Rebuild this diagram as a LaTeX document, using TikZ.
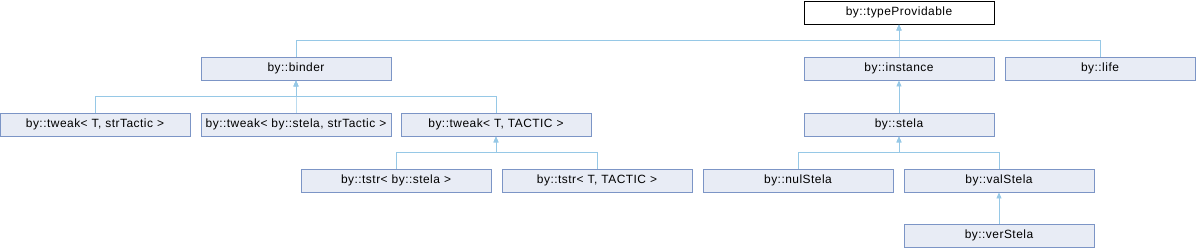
\documentclass[tikz,border=0pt]{standalone}
\usepackage{fontspec}
\setmainfont[LetterSpace=4]{Liberation Sans}
\usetikzlibrary{arrows.meta}
\definecolor{boxfill}{RGB}{232,236,245}
\definecolor{boxline}{RGB}{124,149,198}
\definecolor{linkline}{RGB}{150,200,230}

\begin{document}
\begin{tikzpicture}[x=1bp,y=-1bp,font=\fontsize{12}{14}\selectfont,
  cls/.style={draw=boxline,fill=boxfill,line width=.9bp,text width=186bp,align=center,minimum height=23bp,inner sep=2bp},
  root/.style={cls,draw=black,fill=white},
  link/.style={draw=linkline,line width=.9bp,-{Triangle[length=6bp,width=5bp]}}]
  \useasboundingbox (0,0) rectangle (1196,248);
  \node[root] (prov) at (899,12.5) {by::typeProvidable};
  \node[cls] (binder) at (296,68.5) {by::binder};
  \node[cls] (inst) at (899,68.5) {by::instance};
  \node[cls] (life) at (1100,68.5) {by::life};
  \node[cls] (twA) at (95,124.5) {by::tweak< T, strTactic >};
  \node[cls] (twB) at (296,124.5) {by::tweak< by::stela, strTactic >};
  \node[cls] (twC) at (496,124.5) {by::tweak< T, TACTIC >};
  \node[cls] (stela) at (899,124.5) {by::stela};
  \node[cls] (tsA) at (396,180.5) {by::tstr< by::stela >};
  \node[cls] (tsB) at (597,180.5) {by::tstr< T, TACTIC >};
  \node[cls] (nul) at (798,180.5) {by::nulStela};
  \node[cls] (val) at (999,180.5) {by::valStela};
  \node[cls] (ver) at (999,235.5) {by::verStela};
  % bus lines
  \coordinate (busProv) at (899,40);
  \coordinate (busBind) at (296,96);
  \coordinate (busTw) at (496,152);
  \coordinate (busSt) at (899,152);
  \foreach \c in {binder,inst,life}{\draw[link] (\c.north) |- (busProv) -- (prov.south);}
  \foreach \c in {twA,twB,twC}{\draw[link] (\c.north) |- (busBind) -- (binder.south);}
  \foreach \c in {tsA,tsB}{\draw[link] (\c.north) |- (busTw) -- (twC.south);}
  \foreach \c in {nul,val}{\draw[link] (\c.north) |- (busSt) -- (stela.south);}
  \draw[link] (stela.north) -- (inst.south);
  \draw[link] (ver.north) -- (val.south);
\end{tikzpicture}
\end{document}
